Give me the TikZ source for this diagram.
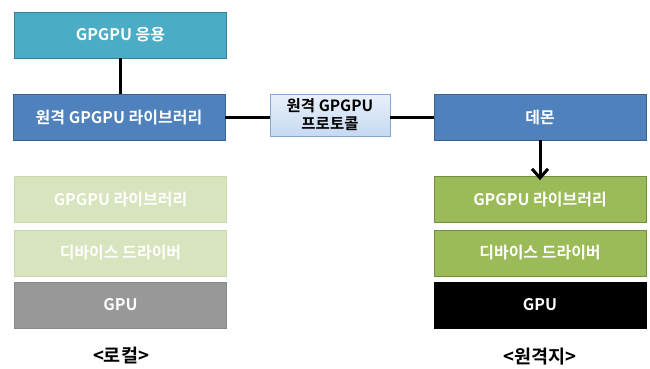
\documentclass[tikz,border=0pt]{standalone}
\usepackage{fontspec}
\newfontfamily\kr{Noto Sans CJK KR}[BoldFont={Noto Sans CJK KR Bold}]
\usetikzlibrary{arrows.meta}
\definecolor{teal1}{HTML}{4BACC6}
\definecolor{blue1}{HTML}{4F81BD}
\definecolor{green1}{HTML}{9BBB59}
\definecolor{lgreen}{HTML}{D7E4BD}
\definecolor{lgreenb}{HTML}{C9D9AC}
\definecolor{gray1}{HTML}{989898}
\definecolor{proto1}{HTML}{C6D9F1}
\definecolor{proto2}{HTML}{E9F0FA}
\tikzset{
  layer/.style={draw=#1!75!black, line width=0.8pt, fill=#1, minimum width=212pt, minimum height=46pt,
    inner sep=0pt, font=\kr\bfseries\fontsize{16}{18}\selectfont, text=white},
  conn/.style={line width=3pt, black},
  sidelabel/.style={font=\kr\bfseries\fontsize{18.5}{20}\selectfont, text=black}
}
\begin{document}
\begin{tikzpicture}[x=1pt,y=-1pt]
\useasboundingbox (0,0) rectangle (650,368);
\node[layer=teal1] (app) at (120.5,35) {GPGPU 응용};
\node[layer=blue1] (rlib) at (119,117.5) {원격 GPGPU 라이브러리};
\node[draw=blue1!70, line width=0.8pt, top color=proto2, bottom color=proto1, minimum width=120pt, minimum height=42pt,
  inner sep=0pt, align=center, font=\kr\bfseries\fontsize{15.5}{18}\selectfont, text=black] (proto) at (330,115) {원격 GPGPU\\프로토콜};
\node[layer=blue1] (daemon) at (540,117) {데몬};
\node[layer=green1] (glib) at (540,199.5) {GPGPU 라이브러리};
\node[layer=green1] (gdrv) at (540,253) {디바이스 드라이버};
\node[layer=black, draw=black] (ggpu) at (540,305) {GPU};
\node[layer=lgreen, draw=lgreenb] (llib) at (120.5,199.5) {GPGPU 라이브러리};
\node[layer=lgreen, draw=lgreenb] (ldrv) at (120.5,253) {디바이스 드라이버};
\node[layer=gray1, draw=gray1!90!black] (lgpu) at (120.5,305) {GPU};
\node[sidelabel] (lcap) at (121,355) {<로컬>};
\node[sidelabel] (rcap) at (540,357) {<원격지>};
\draw[conn] (app.south) -- (rlib.north -| app.south);
\draw[conn] (rlib.east) -- (proto.west |- rlib.east);
\draw[conn] (proto.east |- daemon.west) -- (daemon.west);
\draw[conn, -{Straight Barb[length=9pt,width=16pt,line width=3pt]}] (daemon.south) -- ([yshift=-4pt]glib.north);
\end{tikzpicture}
\end{document}
